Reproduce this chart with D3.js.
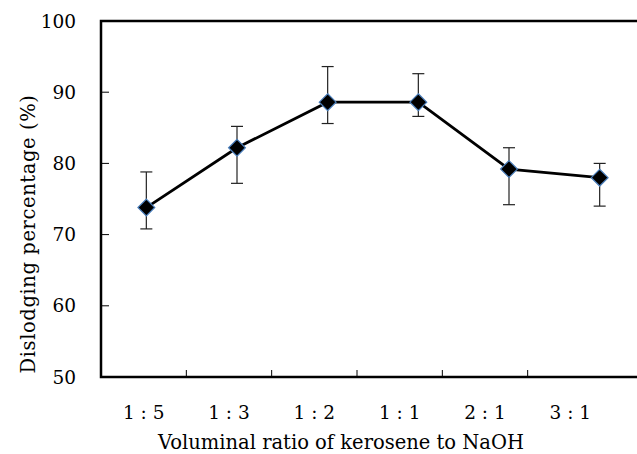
<!doctype html>
<html>

<head>
    <title>Dislodging percentage</title>
    <script src="https://d3js.org/d3.v7.min.js"></script>
    <style>
        body { margin: 0; background: #fff; }
        text { font-family: "DejaVu Serif", serif; fill: #000; }
    </style>
</head>

<body>

    <svg width="637" height="454"></svg>

    <script>
        var ratios = ["1 : 5", "1 : 3", "1 : 2", "1 : 1", "2 : 1", "3 : 1"];
        var dislodging = [73.8, 82.2, 88.6, 88.6, 79.2, 78.0];
        var errUpper = [78.8, 85.2, 93.6, 92.6, 82.2, 80.0];
        var errLower = [70.8, 77.2, 85.6, 86.6, 74.2, 74.0];
        var yTicks = [50, 60, 70, 80, 90, 100];

        var plotLeft = 101, plotTop = 21, plotBottom = 377;

        var svg = d3.select("svg");

        var y = d3.scaleLinear()
            .domain([50, 100])
            .range([plotBottom, plotTop]);

        // category axis (ticks and labels)
        var xAxisScale = d3.scaleBand()
            .domain(ratios)
            .range([plotLeft, 613]);

        // the markers sit on a slightly wider spacing in the original
        var xPoint = d3.scalePoint()
            .domain(ratios)
            .range([plotLeft, 645])
            .padding(0.5);

        // frame (runs off the right edge)
        svg.append("rect")
            .attr("x", plotLeft)
            .attr("y", plotTop)
            .attr("width", 600)
            .attr("height", plotBottom - plotTop)
            .attr("fill", "none")
            .attr("stroke", "#000")
            .attr("stroke-width", 2.5);

        // y ticks pointing inward
        svg.selectAll(".ytick")
            .data(yTicks.slice(1, -1))
            .enter()
                .append("line")
                .attr("x1", plotLeft)
                .attr("x2", plotLeft + 8)
                .attr("y1", function(d) { return y(d); })
                .attr("y2", function(d) { return y(d); })
                .attr("stroke", "#000")
                .attr("stroke-width", 1);

        svg.selectAll(".ylab")
            .data(yTicks)
            .enter()
                .append("text")
                .attr("x", 76)
                .attr("y", function(d) { return y(d); })
                .attr("dy", "0.36em")
                .attr("text-anchor", "end")
                .attr("font-size", 18.5)
                .text(function(d) { return d; });

        // x ticks between categories, pointing inward
        var boundaries = ratios.slice(1).map(function(d) { return xAxisScale(d); });
        svg.selectAll(".xtick")
            .data(boundaries)
            .enter()
                .append("line")
                .attr("x1", function(d) { return d; })
                .attr("x2", function(d) { return d; })
                .attr("y1", plotBottom)
                .attr("y2", plotBottom - 7)
                .attr("stroke", "#000")
                .attr("stroke-width", 1);

        svg.selectAll(".xlab")
            .data(ratios)
            .enter()
                .append("text")
                .attr("x", function(d) { return xAxisScale(d) + xAxisScale.bandwidth() / 2; })
                .attr("y", 419)
                .attr("text-anchor", "middle")
                .attr("font-size", 18.5)
                .text(function(d) { return d; });

        // axis titles
        svg.append("text")
            .attr("x", 341)
            .attr("y", 449)
            .attr("text-anchor", "middle")
            .attr("font-size", 19.5)
            .text("Voluminal ratio of kerosene to NaOH");

        svg.append("text")
            .attr("transform", "translate(35,234) rotate(-90)")
            .attr("text-anchor", "middle")
            .attr("font-size", 19.5)
            .attr("letter-spacing", 0.6)
            .text("Dislodging percentage (%)");

        // error bars
        var eb = svg.append("g")
            .attr("stroke", "#222")
            .attr("stroke-width", 1.2);

        ratios.forEach(function(r, i) {
            var cx = xPoint(r);
            eb.append("line")
                .attr("x1", cx).attr("x2", cx)
                .attr("y1", y(errUpper[i])).attr("y2", y(errLower[i]));
            eb.append("line")
                .attr("x1", cx - 6).attr("x2", cx + 6)
                .attr("y1", y(errUpper[i])).attr("y2", y(errUpper[i]));
            eb.append("line")
                .attr("x1", cx - 6).attr("x2", cx + 6)
                .attr("y1", y(errLower[i])).attr("y2", y(errLower[i]));
        });

        // connecting line
        var line = d3.line()
            .x(function(d, i) { return xPoint(ratios[i]); })
            .y(function(d) { return y(d); });

        svg.append("path")
            .datum(dislodging)
            .attr("d", line)
            .attr("fill", "none")
            .attr("stroke", "#000")
            .attr("stroke-width", 2.8);

        // diamond markers
        svg.selectAll(".pt")
            .data(dislodging)
            .enter()
                .append("path")
                .attr("d", d3.symbol().type(d3.symbolDiamond2).size(180))
                .attr("transform", function(d, i) { return "translate(" + xPoint(ratios[i]) + "," + y(d) + ")"; })
                .attr("fill", "#000")
                .attr("stroke", "#4a7ebb")
                .attr("stroke-width", 1.2);

    </script>

</body>

</html>
